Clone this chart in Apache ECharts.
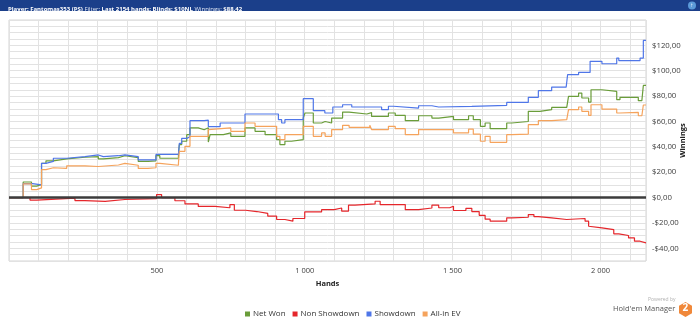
<!DOCTYPE html>
<html>
<head>
<meta charset="utf-8">
<script src="https://cdn.jsdelivr.net/npm/echarts@6/dist/echarts.min.js"></script>
<style>html,body{margin:0;padding:0;background:#fff;}#c{width:700px;height:318px;}</style>
</head>
<body>
<div id="c"></div>
<script>
// ---- data: [hand, value] pairs (value holds from that hand onward) ----
const seriesNames = ['Net Won', 'Non Showdown', 'Showdown', 'All-in EV'];
const netWon = [[0,0],[48,12.3],[76,9],[94,10.3],[110,27],[125,29],[150,30.5],[195,31.8],[257,32.3],[302,30.5],[319,31.5],[370,33],[392,31.5],[437,28.5],[470,29],[497,33],[510,31],[573,34],[576,41.8],[584,44.4],[601,49.6],[612,54.9],[640,53.5],[660,55],[674,43.8],[680,49.6],[725,51],[750,48.3],[798,54.9],[832,52.2],[866,49.6],[905,45.7],[916,41.8],[933,44.4],[955,45.7],[995,62.7],[1001,66.7],[1029,58.8],[1057,60],[1069,58.8],[1091,62.7],[1128,67.4],[1150,65.9],[1210,67],[1226,64],[1283,66.7],[1306,64.8],[1340,60.6],[1385,64.5],[1430,62.7],[1453,64],[1503,61.4],[1554,64.5],[1570,61.4],[1594,56.2],[1610,58.8],[1627,54.3],[1683,58.8],[1700,60],[1756,68],[1795,69.3],[1835,71.1],[1886,70],[1892,79.8],[1926,82.4],[1937,78.5],[1960,75.3],[1968,85],[2005,83.7],[2055,77.2],[2066,79],[2128,76.4],[2140,75.5],[2145,88.4],[2154,88.4]];
const nonShowdown = [[0,0],[71,-2],[94,-0.5],[223,-2.4],[257,-3],[325,-1.5],[392,-0.8],[499,2.4],[516,0],[561,-2.5],[595,-5],[640,-7],[697,-8],[747,-5.5],[762,-10],[800,-11],[838,-12.5],[875,-14.7],[905,-17.3],[933,-18.6],[960,-16.5],[1000,-11.3],[1057,-9.5],[1100,-8.2],[1125,-10.7],[1148,-6],[1170,-5],[1238,-2.9],[1255,-5.5],[1340,-9.5],[1385,-8.2],[1430,-6],[1453,-8],[1490,-6.8],[1503,-10.2],[1545,-8.5],[1565,-11],[1590,-14],[1610,-17],[1627,-18.6],[1683,-16],[1700,-15.5],[1756,-13.4],[1775,-15],[1790,-16],[1835,-17.3],[1886,-16.5],[1948,-18.6],[1960,-22.6],[1965,-23.9],[2005,-25.2],[2045,-28.6],[2062,-29.9],[2095,-31.8],[2115,-34.4],[2134,-35.7],[2154,-35.7]];
const showdown = [[0,0],[48,11],[80,10],[110,27],[125,28.5],[150,31],[195,32.3],[257,33.6],[302,32.3],[319,33],[370,33.6],[392,32.3],[437,29.8],[497,34],[573,35],[576,42.8],[584,46.7],[601,48],[612,60.6],[660,61],[674,56],[714,58.8],[798,65.9],[911,61.4],[922,58.8],[933,61.4],[995,78],[1029,68.5],[1068,66.7],[1095,71.4],[1128,73.2],[1159,71.4],[1260,69.3],[1283,72],[1300,70.6],[1385,72.4],[1430,71.4],[1453,71.9],[1565,72.7],[1683,75],[1756,79],[1790,84.3],[1835,87.1],[1884,85.8],[1889,96.9],[1926,98.7],[1965,107.4],[2005,105.5],[2055,110],[2062,108],[2134,110],[2145,123.9],[2154,123.9]];
const allInEV = [[0,0],[48,10.8],[76,6.3],[94,7.6],[110,22],[125,23.5],[150,23],[195,25],[257,24.5],[302,25.7],[370,27],[392,25.5],[437,23],[470,23.5],[497,27],[510,25.5],[573,27.3],[576,36.5],[595,40.4],[612,48.3],[674,53.6],[680,54.9],[750,52.2],[798,58.8],[832,56.2],[905,48.3],[916,45.7],[933,49.6],[995,56.2],[1029,48.3],[1057,51],[1069,48.3],[1091,53.6],[1128,57],[1150,55.4],[1220,57],[1226,53.6],[1283,56.2],[1306,54.3],[1340,49.6],[1385,53.6],[1503,51],[1554,54],[1570,50],[1594,44.4],[1610,48.3],[1627,43.6],[1683,49.6],[1700,50.1],[1756,57.5],[1790,60.6],[1835,61.4],[1886,60],[1892,69.3],[1926,71.4],[1937,68],[1960,64.8],[1968,73.2],[2005,69.8],[2055,66.7],[2066,67.2],[2128,64.5],[2140,64],[2145,73],[2154,73]];
const xLabelTicks = [500, 1000, 1500, 2000];
const yLabelTicks = [-40, -20, 0, 20, 40, 60, 80, 100, 120];

const colors = ['#6a9d3a', '#e5262b', '#4f76e8', '#f5a35c'];
const FONT = 'Open Sans';
const chart = echarts.init(document.getElementById('c'), null, {renderer: 'canvas'});

function fmtX(v) {
  if (!xLabelTicks.includes(v)) return '';
  const s = String(v);
  return s.length > 3 ? s.slice(0, s.length - 3) + ' ' + s.slice(-3) : s;
}
function fmtY(v) {
  if (!yLabelTicks.includes(v)) return '';
  return (v < 0 ? '-' : '') + '$' + Math.abs(v) + ',00';
}
const allData = [netWon, nonShowdown, showdown, allInEV];

chart.setOption({
  animation: false,
  textStyle: {fontFamily: FONT},
  title: {
    left: 3, top: 1.5,
    text: '{b|Player: Fantomas353 (PS)} Filter: {b|Last 2154 hands: Blinds: $10NL} Winnings: {b|$88.42}',
    textStyle: {color: '#dfe6f3', fontSize: 6, fontWeight: 'normal', fontFamily: FONT,
      rich: {b: {color: '#ffffff', fontWeight: 'bold', fontSize: 6, fontFamily: FONT}}}
  },
  graphic: [
    {type: 'rect', shape: {x: 0, y: 0, width: 700, height: 11}, style: {fill: '#1b3f8a'}, z: -1},
    {type: 'circle', shape: {cx: 692, cy: 5.5, r: 4}, style: {fill: '#5b9ad8'}},
    {type: 'text', x: 690.3, y: 2, style: {text: '↑', fill: '#fff', fontSize: 6, fontWeight: 'bold'}},
    {type: 'text', x: 648, y: 297.5, style: {text: 'Powered by', fill: '#b0b0b0', fontSize: 5, fontFamily: FONT}},
    {type: 'text', x: 613, y: 305, style: {text: "Hold'em Manager", fill: '#555', fontSize: 7.5, fontFamily: FONT}},
    {type: 'polygon', shape: {points: [[685.5,302],[692,305.8],[692,313.2],[685.5,317],[679,313.2],[679,305.8]]}, style: {fill: '#f0883a'}},
    {type: 'text', x: 682.5, y: 303.5, style: {text: '2', fill: '#fff', fontSize: 10, fontWeight: 'bold', fontFamily: FONT}}
  ],
  legend: {
    left: 240, top: 305,
    icon: 'rect', itemWidth: 5, itemHeight: 5, itemGap: 7,
    textStyle: {fontSize: 8, color: '#333', fontFamily: FONT, padding: [0, 0, 0, -2]},
    data: seriesNames
  },
  grid: {left: 9, right: 54, top: 20, bottom: 57, containLabel: false, outerBoundsMode: 'none',
    show: true, borderColor: '#d4d4d4', borderWidth: 1},
  xAxis: {
    type: 'value', min: 0, max: 2154, interval: 100,
    name: 'Hands', nameLocation: 'middle', nameGap: 19, nameMoveOverlap: false,
    nameTextStyle: {fontWeight: 'bold', fontSize: 7.5, color: '#222', fontFamily: FONT},
    axisLine: {show: false}, axisTick: {show: false},
    axisLabel: {formatter: fmtX, fontSize: 7.5, color: '#404040', margin: 6, fontFamily: FONT, showMaxLabel: false},
    splitLine: {show: true, lineStyle: {color: '#e2e2e2', width: 1}}
  },
  yAxis: {
    type: 'value', min: -50, max: 140, interval: 5, position: 'right',
    name: 'Winnings', nameLocation: 'middle', nameGap: 33, nameRotate: 90, nameMoveOverlap: false,
    nameTextStyle: {fontWeight: 'bold', fontSize: 7.5, color: '#222', fontFamily: FONT},
    axisLine: {show: false}, axisTick: {show: false},
    axisLabel: {formatter: fmtY, fontSize: 7.8, color: '#404040', margin: 6, fontFamily: FONT},
    splitLine: {show: true, lineStyle: {color: '#e2e2e2', width: 1}}
  },
  series: seriesNames.map((n, i) => ({
    name: n, type: 'line', step: 'end', data: allData[i],
    showSymbol: false, symbol: 'none',
    lineStyle: {color: colors[i], width: 1.2},
    itemStyle: {color: colors[i]},
    z: 2,
    markLine: i === 0 ? {
      silent: true, symbol: 'none', label: {show: false},
      lineStyle: {color: '#3c3c3c', width: 2.5, type: 'solid'},
      data: [{yAxis: 0}], z: 5
    } : undefined
  }))
});
</script>
</body>
</html>
